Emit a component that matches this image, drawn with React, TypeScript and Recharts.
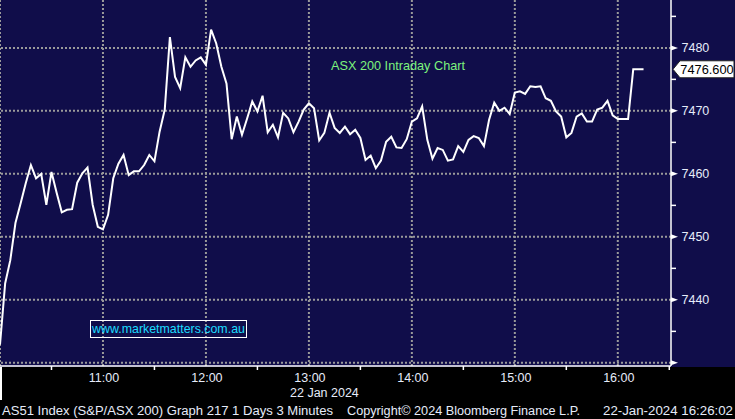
import { LineChart, Line, XAxis, YAxis, ReferenceLine } from 'recharts';

// minutes after 10:00, 3-minute bars
const minutes = [
  0, 3, 6, 9, 12, 15, 18, 21, 24, 27, 30, 33, 36, 39, 42, 45, 48, 51, 54, 57,
  60, 63, 66, 69, 72, 75, 78, 81, 84, 87, 90, 93, 96, 99, 102, 105, 108, 111, 114, 117,
  120, 123, 126, 129, 132, 135, 138, 141, 144, 147, 150, 153, 156, 159, 162, 165, 168, 171, 174, 177,
  180, 183, 186, 189, 192, 195, 198, 201, 204, 207, 210, 213, 216, 219, 222, 225, 228, 231, 234, 237,
  240, 243, 246, 249, 252, 255, 258, 261, 264, 267, 270, 273, 276, 279, 282, 285, 288, 291, 294, 297,
  300, 303, 306, 309, 312, 315, 318, 321, 324, 327, 330, 333, 336, 339, 342, 345, 348, 351, 354, 357,
  360, 363, 366, 369, 375,
];

const prices = [
  7432.9, 7442.6, 7446.3, 7452.2, 7455.3, 7458.5, 7461.4, 7459.3, 7460.0, 7455.1,
  7460.3, 7457.0, 7453.9, 7454.3, 7454.4, 7458.6, 7460.1, 7461.0, 7455.1, 7451.6,
  7451.2, 7453.5, 7459.3, 7461.6, 7463.0, 7459.8, 7460.4, 7460.4, 7461.4, 7463.0,
  7462.0, 7466.7, 7470.2, 7481.7, 7475.4, 7473.6, 7478.5, 7477.0, 7478.0, 7478.5,
  7477.3, 7482.9, 7480.7, 7477.0, 7474.3, 7465.5, 7469.1, 7466.2, 7468.8, 7471.5,
  7469.9, 7472.4, 7466.6, 7467.8, 7465.8, 7469.7, 7468.8, 7466.6, 7468.3, 7470.2,
  7471.2, 7470.4, 7465.3, 7466.5, 7469.7, 7467.3, 7466.5, 7467.5, 7466.3, 7467.0,
  7465.7, 7462.2, 7462.9, 7460.9, 7462.1, 7465.1, 7465.9, 7464.2, 7464.1, 7465.5,
  7468.3, 7468.8, 7470.7, 7465.4, 7462.4, 7464.1, 7463.8, 7462.1, 7462.3, 7464.4,
  7463.5, 7465.4, 7466.0, 7465.7, 7464.4, 7468.6, 7471.3, 7470.0, 7470.5, 7469.5,
  7472.9, 7473.1, 7472.7, 7473.9, 7473.8, 7473.9, 7472.0, 7471.6, 7469.9, 7469.1,
  7465.8, 7466.5, 7469.1, 7469.6, 7468.3, 7468.3, 7470.2, 7470.5, 7471.6, 7469.3,
  7468.7, 7468.7, 7468.7, 7476.6, 7476.6,
];

const yTicks = [7430, 7435, 7440, 7445, 7450, 7455, 7460, 7465, 7470, 7475, 7480, 7485];
const yLabels = [7440, 7450, 7460, 7470, 7480];
const gridPrices = [7430, 7440, 7450, 7460, 7470, 7480];
const xTicks = [30, 60, 90, 120, 150, 180, 210, 240, 270, 300, 330, 360, 390];
const hourLabels: Record<number, string> = {
  60: '11:00', 120: '12:00', 180: '13:00', 240: '14:00', 300: '15:00', 360: '16:00',
};
const gridMinutes = [0, 60, 120, 180, 240, 300, 360];
const lastPrice = 7476.6;

const data = minutes.map((t, i) => ({ t, price: prices[i] }));

const FONT = '"Liberation Sans", Arial, sans-serif';
const NAVY = '#100d4a';
const AXIS_TEXT = '#e6ecfa';

const YTick = (props: any) => {
  const { x, y, payload } = props;
  const v = payload.value;
  if (v % 10 !== 0) {
    return <line x1={x} x2={x + 5} y1={y} y2={y} stroke="#fff" strokeWidth={1.5} />;
  }
  return (
    <g>
      <path d={`M${x},${y - 2.5} L${x + 7},${y} L${x},${y + 2.5} Z`} fill="#fff" />
      {yLabels.includes(v) && (
        <text x={x + 10.5} y={y} dy="0.36em" fill={AXIS_TEXT} fontSize={12.5} fontFamily={FONT}>
          {v}
        </text>
      )}
    </g>
  );
};

const XTick = (props: any) => {
  const { x, y, payload } = props;
  const v = payload.value;
  if (v % 60 !== 0) {
    return <line x1={x} x2={x} y1={y} y2={y + 4} stroke="#fff" strokeWidth={1.5} />;
  }
  return (
    <text x={x + 1} y={y + 11} dy="0.36em" textAnchor="middle" fill={AXIS_TEXT} fontSize={12.5} fontFamily={FONT}>
      {hourLabels[v]}
    </text>
  );
};

const PriceTag = (props: any) => {
  const { viewBox } = props;
  const x = viewBox.x + viewBox.width + 2;
  const y = viewBox.y;
  return (
    <g>
      <path
        d={`M${x},${y} L${x + 7},${y - 8.5} L${x + 61},${y - 8.5} L${x + 61},${y + 8.5} L${x + 7},${y + 8.5} Z`}
        fill="#fff"
        stroke="#222"
        strokeWidth={1}
      />
      <text x={x + 34} y={y} dy="0.36em" textAnchor="middle" fill="#000" fontSize={12.8} fontFamily={FONT}>
        {lastPrice.toFixed(3)}
      </text>
    </g>
  );
};

const App = () => {
  return (
    <div style={{ position: 'absolute', left: 0, top: 0, width: 735, height: 419, background: '#000', overflow: 'hidden', fontFamily: FONT }}>
      <div style={{ position: 'absolute', left: 0, top: 0, width: 735, height: 367, background: NAVY }} />
      <div style={{ position: 'absolute', left: 0, top: 0 }}>
        <LineChart width={735} height={419} data={data} margin={{ top: 0, right: 0, left: 0, bottom: 0 }}>
          {gridPrices.map((p) => (
            <ReferenceLine key={'h' + p} y={p} stroke="#9a9a9a" strokeWidth={2} strokeDasharray="2 2" />
          ))}
          {gridMinutes.map((m) => (
            <ReferenceLine key={'v' + m} x={m} stroke="#9a9a9a" strokeWidth={2} strokeDasharray="2 2" />
          ))}
          <XAxis
            dataKey="t"
            type="number"
            domain={[0, 391]}
            allowDataOverflow
            ticks={xTicks}
            interval={0}
            height={53}
            stroke="#fff"
            strokeWidth={1.5}
            tickLine={false}
            tickSize={0}
            tickMargin={0}
            tick={<XTick />}
          />
          <YAxis
            orientation="right"
            domain={[7429.5, 7487.6]}
            allowDataOverflow
            ticks={yTicks}
            interval={0}
            width={64}
            stroke="#fff"
            strokeWidth={1.5}
            tickLine={false}
            tickSize={0}
            tickMargin={0}
            tick={<YTick />}
          />
          <ReferenceLine y={lastPrice} stroke="none" label={<PriceTag />} />
          <Line
            type="linear"
            dataKey="price"
            stroke="#ffffff"
            strokeWidth={2}
            dot={false}
            activeDot={false}
            isAnimationActive={false}
          />
        </LineChart>
      </div>
      <div style={{ position: 'absolute', left: 0, top: 367, width: 1.5, height: 33, background: '#fff' }} />
      <div style={{ position: 'absolute', left: 331, top: 58, color: '#7df27d', fontSize: 12.7, whiteSpace: 'nowrap', lineHeight: '17px' }}>
        ASX 200 Intraday Chart
      </div>
      <div
        style={{
          position: 'absolute', left: 90, top: 320, width: 155, height: 16,
          border: '1.5px solid #fff', color: '#1cdcff', fontSize: 12.4,
          lineHeight: '16px', textAlign: 'center', whiteSpace: 'nowrap',
        }}
      >
        www.marketmatters.com.au
      </div>
      <div style={{ position: 'absolute', left: 290, top: 385, color: AXIS_TEXT, fontSize: 12.5, lineHeight: '16px', whiteSpace: 'nowrap' }}>
        22 Jan 2024
      </div>
      <svg style={{ position: 'absolute', left: 0, top: 400 }} width={735} height={19}>
        <text x={2} y={10} dy="0.36em" fill={AXIS_TEXT} fontSize={12.5} fontFamily={FONT} textLength={331} lengthAdjust="spacingAndGlyphs">
          AS51 Index (S&amp;P/ASX 200) Graph 217 1 Days 3 Minutes
        </text>
        <text x={347} y={10} dy="0.36em" fill={AXIS_TEXT} fontSize={12.5} fontFamily={FONT} textLength={233} lengthAdjust="spacingAndGlyphs">
          Copyright© 2024 Bloomberg Finance L.P.
        </text>
        <text x={603} y={10} dy="0.36em" fill={AXIS_TEXT} fontSize={12.5} fontFamily={FONT} textLength={130} lengthAdjust="spacingAndGlyphs">
          22-Jan-2024 16:26:02
        </text>
      </svg>
    </div>
  );
};

export default App;
